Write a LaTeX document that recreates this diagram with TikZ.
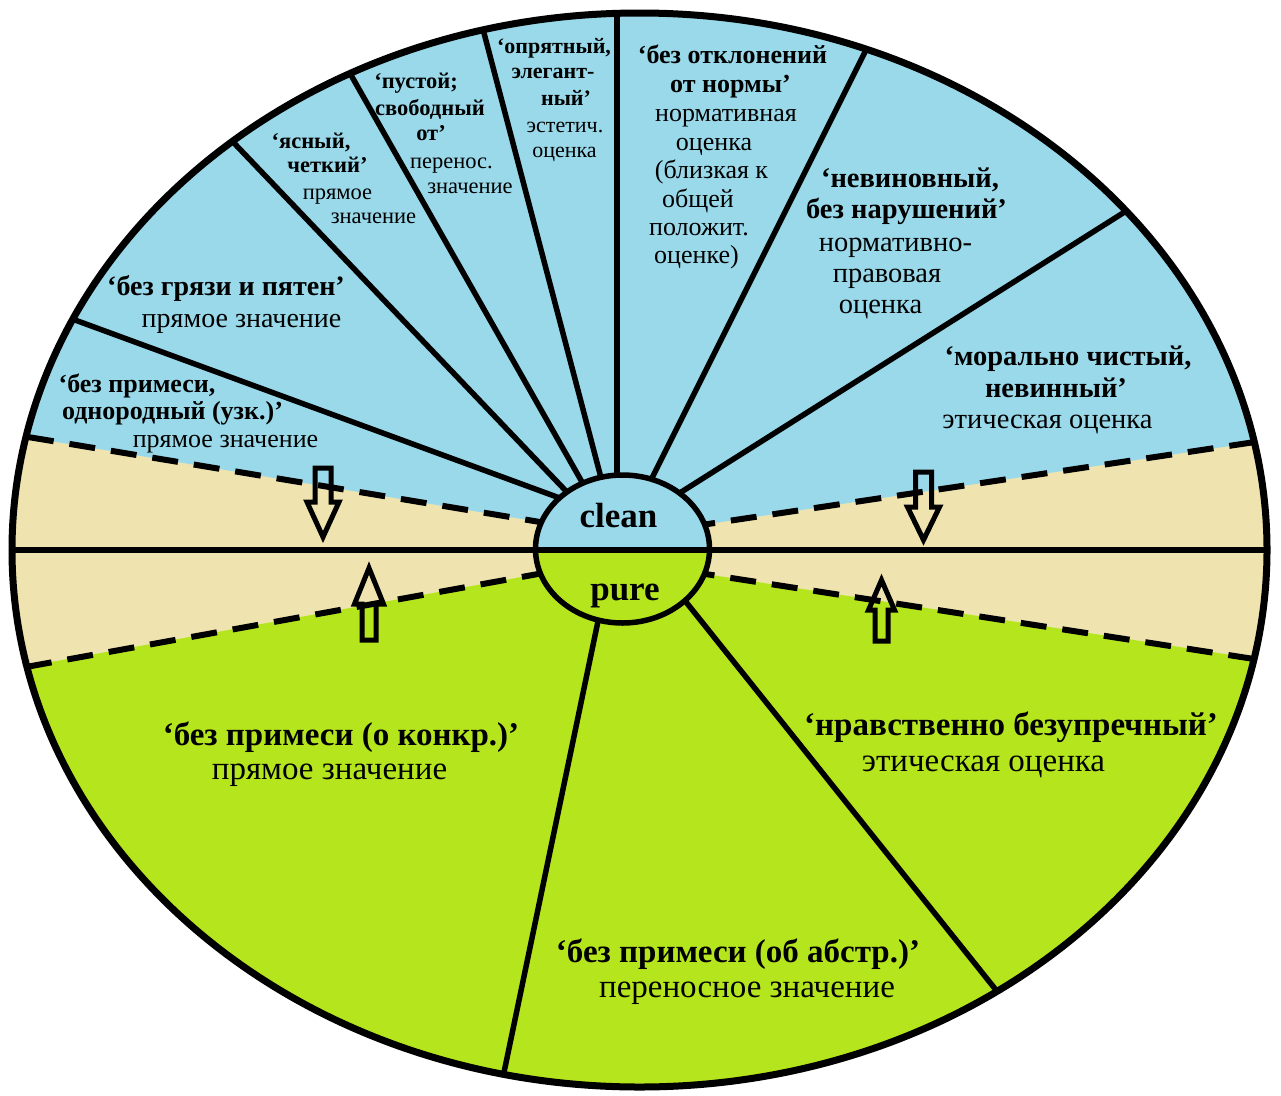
\documentclass[tikz,border=0pt]{standalone}
\usepackage{fontspec}
\setmainfont{Liberation Serif}
\usetikzlibrary{calc}
\definecolor{skyb}{HTML}{99D9EA}
\definecolor{sand}{HTML}{EFE4B0}
\definecolor{limeg}{HTML}{B5E61D}
\tikzset{
  lbl/.style={anchor=base, inner sep=0pt, outer sep=0pt, text=black},
  rayline/.style={line width=5.5pt},
  dashline/.style={line width=6pt, dash pattern=on 26pt off 16pt},
  arrline/.style={line width=5pt, line join=miter},
}
\newcommand\txb[5]{\node[lbl, font=\fontsize{#2}{#2}\selectfont\bfseries] (#1) at (#3,#4) {#5};}
\newcommand\txr[5]{\node[lbl, font=\fontsize{#2}{#2}\selectfont] (#1) at (#3,#4) {#5};}
\begin{document}
\begin{tikzpicture}[x=1pt,y=-1pt]
\useasboundingbox (0,0) rectangle (1281,1095);
\fill[white] (0,0) rectangle (1281,1095);
\coordinate (C) at (639.5,550);
\coordinate (W) at (12,550);
\coordinate (E) at (1267,550);
\coordinate (H) at (622.5,549);
% ray end points (outer, inner)
\coordinate (o1) at (75,320);   \coordinate (i1) at (557,497);
\coordinate (o2) at (234,143);  \coordinate (i2) at (565,490);
\coordinate (o3) at (347,68);   \coordinate (i3) at (582,482);
\coordinate (o4) at (484,33);   \coordinate (i4) at (600,474);
\coordinate (o5) at (617,12);   \coordinate (i5) at (617,474);
\coordinate (o6) at (866,50);   \coordinate (i6) at (653,476);
\coordinate (o7) at (1123,213); \coordinate (i7) at (686,489);
\coordinate (o8) at (502,1082); \coordinate (i8) at (597,626);
\coordinate (o9) at (1000,995); \coordinate (i9) at (690,607);
% dashed border lines (outer, inner)
\coordinate (d1o) at (28,437);   \coordinate (d1i) at (540,522);
\coordinate (d2o) at (1255,442); \coordinate (d2i) at (708,524);
\coordinate (d3o) at (26,667);   \coordinate (d3i) at (538,574);
\coordinate (d4o) at (1254,659); \coordinate (d4i) at (712,575);
\begin{scope}
  \clip (C) ellipse [x radius=627.5pt, y radius=537pt];
  \fill[sand] (0,0) rectangle (1281,1095);
  \fill[skyb] (-10,431) -- (d1i) -- (H) -- (d2i) -- (1290,437) -- (1290,-10) -- (-10,-10) -- cycle;
  \fill[limeg] (-10,673) -- (d3i) -- (H) -- (d4i) -- (1290,664) -- (1290,1100) -- (-10,1100) -- cycle;
  \draw[dashline] (d1o) -- ($(d1o)!1.04!(d1i)$);
  \draw[dashline] (d2o) -- ($(d2o)!1.04!(d2i)$);
  \draw[dashline] (d3o) -- ($(d3o)!1.04!(d3i)$);
  \draw[dashline] (d4o) -- ($(d4o)!1.04!(d4i)$);
  \foreach \k in {1,...,9} {
    \draw[rayline] ($(i\k)!1.04!(o\k)$) -- ($(o\k)!1.06!(i\k)$);
  }
\end{scope}
\draw[line width=7pt] (C) ellipse [x radius=627.5pt, y radius=537pt];
% hub
\begin{scope}
  \clip (H) ellipse [x radius=87pt, y radius=74pt];
  \fill[skyb] (520,460) rectangle (725,550);
  \fill[limeg] (520,550) rectangle (725,640);
\end{scope}
\draw[line width=5.5pt] (W) -- (E);
\draw[line width=5.5pt] (H) ellipse [x radius=87pt, y radius=74pt];
% arrows
\draw[arrline, shift={(323,468)}] (-8,0) -- (8,0) -- (8,34) -- (16,34) -- (0,69) -- (-16,34) -- (-8,34) -- cycle;
\draw[arrline, shift={(923.5,472)}] (-8,0) -- (8,0) -- (8,35) -- (16,35) -- (0,68) -- (-16,35) -- (-8,35) -- cycle;
\draw[arrline, shift={(369,640)}] (-7,0) -- (7,0) -- (7,-36) -- (14.5,-36) -- (0,-72) -- (-14.5,-36) -- (-7,-36) -- cycle;
\draw[arrline, shift={(881.5,641)}] (-6.5,0) -- (6.5,0) -- (6.5,-31) -- (13,-31) -- (0,-61) -- (-13,-31) -- (-6.5,-31) -- cycle;
% hub labels
\txb{clean}{35}{618.5}{527}{clean}
\txb{pure}{35}{625}{600}{pure}
% A
\txb{a1}{26}{137}{392}{‘без примеси,}
\txb{a2}{26}{172.5}{419}{однородный (узк.)’}
\txr{a3}{26}{225.5}{447}{прямое значение}
% B
\txb{b1}{28}{226}{295}{‘без грязи и пятен’}
\txr{b2}{28}{241.5}{327}{прямое значение}
% C
\txb{c1}{22.5}{311}{148}{‘ясный,}
\txb{c2}{22.5}{327.5}{172}{четкий’}
\txr{c3}{22.5}{337.5}{199}{прямое}
\txr{c4}{22.5}{373.5}{223}{значение}
% D
\txb{d1}{22.5}{416}{88}{‘пустой;}
\txb{d2}{22.5}{430}{115}{свободный}
\txb{d3}{22.5}{431}{140}{от’}
\txr{d4}{22.5}{451.5}{168}{перенос.}
\txr{d5}{22.5}{470}{193}{значение}
% E
\txb{e1}{22}{554}{53}{‘опрятный,}
\txb{e2}{22}{553}{78}{элегант-}
\txb{e3}{22}{566}{105}{ный’}
\txr{e4}{22}{565}{132}{эстетич.}
\txr{e5}{22}{564.5}{157}{оценка}
% F
\txb{f1}{26}{732.5}{63}{‘без отклонений}
\txb{f2}{26}{730.5}{92}{от нормы’}
\txr{f3}{26}{726}{121}{нормативная}
\txr{f4}{26}{714}{150}{оценка}
\txr{f5}{26}{711.5}{178}{(близкая к}
\txr{f6}{26}{698}{207}{общей}
\txr{f7}{26}{699}{235}{положит.}
\txr{f8}{26}{696.5}{263}{оценке)}
% G
\txb{g1}{28.5}{910}{187}{‘невиновный,}
\txb{g2}{28.5}{906.5}{218}{без нарушений’}
\txr{g3}{28.5}{895.5}{251}{нормативно-}
\txr{g4}{28.5}{887}{282}{правовая}
\txr{g5}{28.5}{880.5}{313}{оценка}
% H
\txb{h1}{28.5}{1068}{365}{‘морально чистый,}
\txb{h2}{28.5}{1056}{397}{невинный’}
\txr{h3}{28.5}{1047.5}{428}{этическая оценка}
% I
\txb{i1t}{33}{341}{745}{‘без примеси (о конкр.)’}
\txr{i2t}{33}{329.5}{779}{прямое значение}
% J
\txb{j1}{33}{1011}{735}{‘нравственно безупречный’}
\txr{j2}{33}{983.5}{771}{этическая оценка}
% K
\txb{k1}{33}{738}{962}{‘без примеси (об абстр.)’}
\txr{k2}{33}{747}{997}{переносное значение}
\end{tikzpicture}
\end{document}
